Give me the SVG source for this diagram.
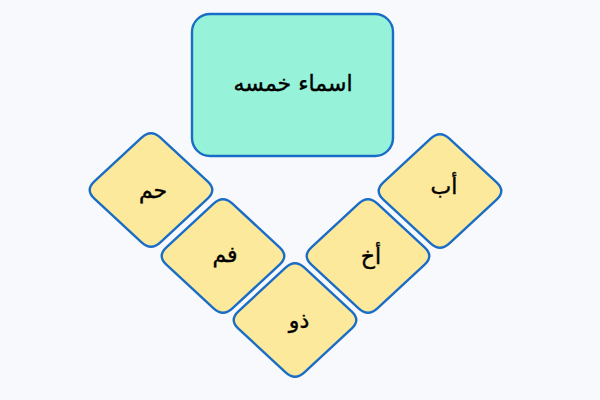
<svg xmlns="http://www.w3.org/2000/svg" xmlns:xlink="http://www.w3.org/1999/xlink" width="600" height="400" viewBox="0 0 600 400">
<style>
.bg{fill:#f8f9fc}
.box{fill:#96f2d8;stroke:#1a6dc6;stroke-width:2.4}
.dia{fill:#fde99b;stroke:#1a6dc6;stroke-width:2.4}
.t{font-family:"DejaVu Sans",sans-serif;font-size:22px;fill:#000;text-anchor:middle;dominant-baseline:central;stroke:#000;stroke-width:0.4}
</style>
<defs>
<path id="rh" d="M 9.4,-52.3 L 56.6,-8.7 Q 66,0 56.6,8.7 L 9.4,52.3 Q 0,61 -9.4,52.3 L -56.6,8.7 Q -66,0 -56.6,-8.7 L -9.4,-52.3 Q 0,-61 9.4,-52.3 Z"/>
</defs>
<rect class="bg" x="0" y="0" width="600" height="400"/>
<g id="connectors"></g>
<g id="title">
<rect class="box" x="192" y="14" width="201" height="142" rx="18"/>
<text class="t" x="293" y="83">اسماء خمسه</text>
</g>
<g id="n-hm">
<use xlink:href="#rh" class="dia" transform="translate(151,190)"/>
<text class="t" x="153" y="190">حم</text>
</g>
<g id="n-fm">
<use xlink:href="#rh" class="dia" transform="translate(223,256)"/>
<text class="t" x="225" y="254">فم</text>
</g>
<g id="n-dhu">
<use xlink:href="#rh" class="dia" transform="translate(295,320)"/>
<text class="t" x="299" y="320">ذو</text>
</g>
<g id="n-akh">
<use xlink:href="#rh" class="dia" transform="translate(368,256)"/>
<text class="t" x="371" y="256">أخ</text>
</g>
<g id="n-ab">
<use xlink:href="#rh" class="dia" transform="translate(440,191)"/>
<text class="t" x="444" y="186">أب</text>
</g>
</svg>
